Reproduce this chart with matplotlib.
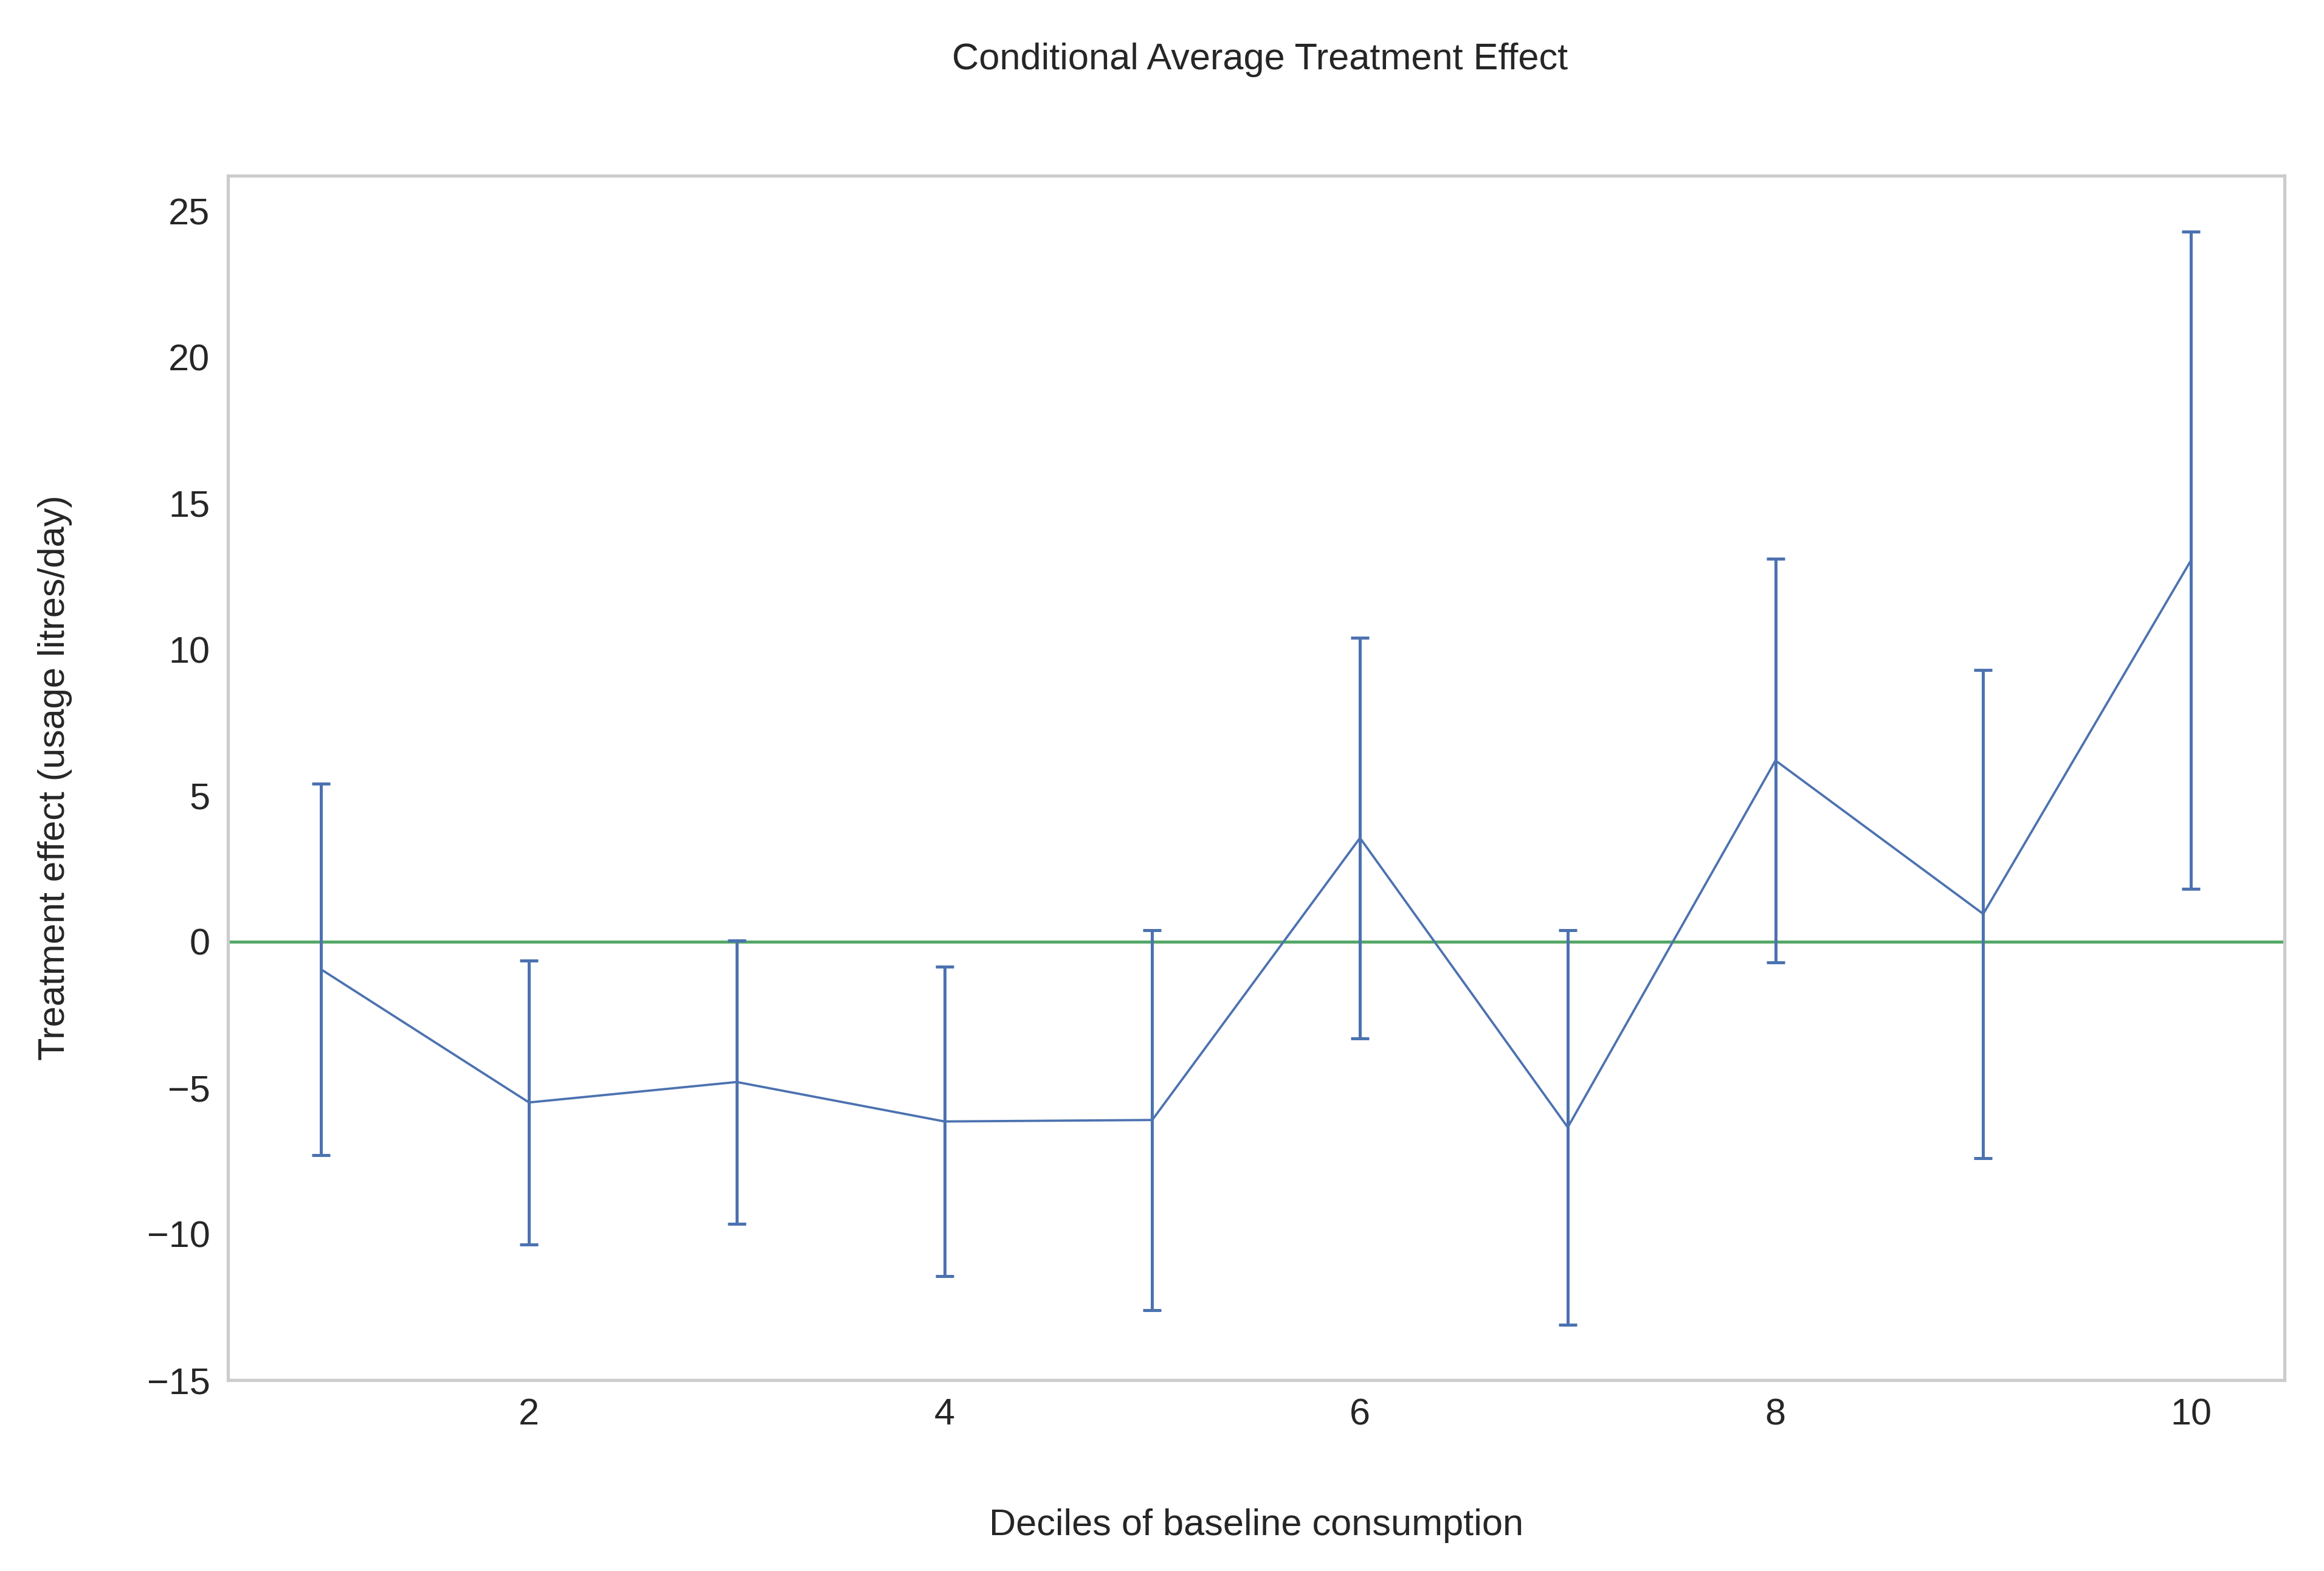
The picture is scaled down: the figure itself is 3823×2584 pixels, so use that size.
import matplotlib.pyplot as plt
plt.switch_backend('agg')

# decile, estimated CATE, half width of the interval
deciles = [1, 2, 3, 4, 5, 6, 7, 8, 9, 10]
effect = [-0.95, -5.5, -4.8, -6.15, -6.1, 3.55, -6.35, 6.2, 0.95, 13.05]
err = [6.35, 4.85, 4.85, 5.3, 6.5, 6.85, 6.75, 6.9, 8.35, 11.25]

blue = '#4C72B0'
green = '#55A868'

plt.rcParams['font.family'] = ['Liberation Sans', 'DejaVu Sans']
plt.rcParams['font.size'] = 14.7

fig = plt.figure(figsize=(3823 / 300, 2584 / 300), dpi=300)
ax = fig.add_axes([0.098, 0.1215, 0.885, 0.7665])

ax.axhline(0, color=green, lw=1.2, zorder=1)
ax.errorbar(deciles, effect, yerr=err, color=blue, lw=0.9,
            elinewidth=1.2, capsize=3.5, capthick=1.2, zorder=2)

ax.set_ylim(-15, 26.2)
ax.set_xlim(0.55, 10.45)
ax.set_yticks([-15, -10, -5, 0, 5, 10, 15, 20, 25])
ax.set_xticks([2, 4, 6, 8, 10])
ax.tick_params(length=0, pad=7, labelsize=14.7, colors='#262626')
for s in ax.spines.values():
    s.set_color('#cccccc')
    s.set_linewidth(1.25)

fig.text(0.542, 0.956, 'Conditional Average Treatment Effect', ha='center',
         va='baseline', fontsize=14.7, color='#262626')
fig.text(0.5405, 0.029, 'Deciles of baseline consumption', ha='center',
         va='center', fontsize=14.7, color='#262626')
fig.text(0.0237, 0.505, 'Treatment effect (usage litres/day)', ha='center',
         va='center', rotation=90, fontsize=14.7, color='#262626')

fig.savefig('out.png', dpi=300)
